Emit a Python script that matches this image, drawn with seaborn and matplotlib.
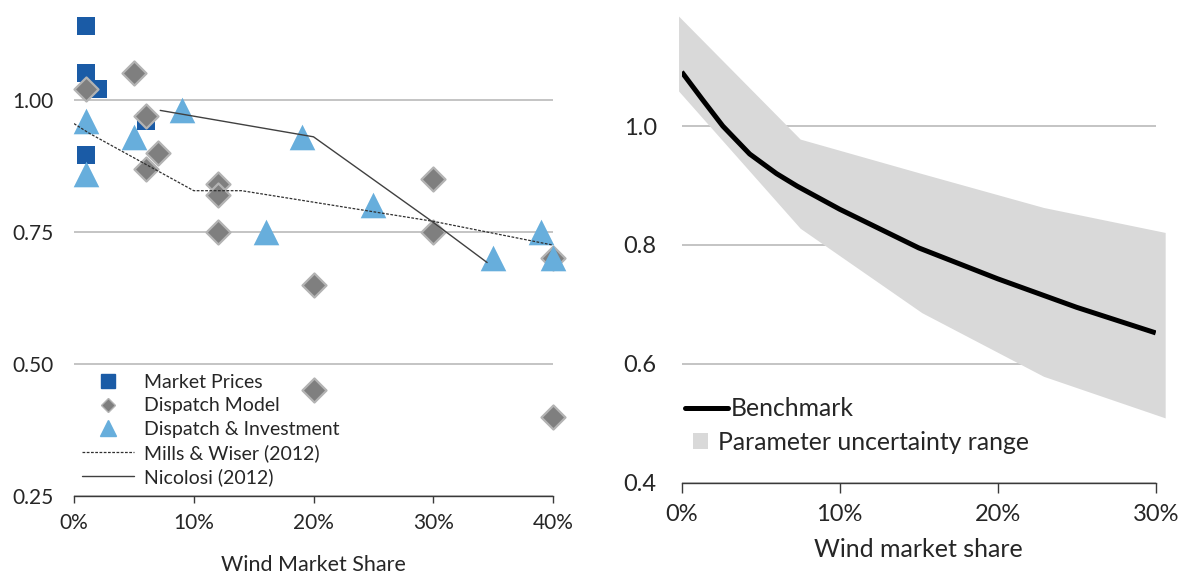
import matplotlib
matplotlib.use("Agg")
import matplotlib.pyplot as plt
from matplotlib.lines import Line2D
from matplotlib.patches import Patch
import seaborn as sns

# ---- left panel: value factors from the literature ----
market_x = [1, 1, 2, 6, 1]
market_y = [1.14, 1.05, 1.02, 0.96, 0.895]

dispatch_x = [1, 5, 6, 7, 6, 12, 12, 12, 30, 30, 20, 20, 40, 40]
dispatch_y = [1.02, 1.05, 0.97, 0.90, 0.87, 0.84, 0.82, 0.75, 0.85, 0.75, 0.65, 0.45, 0.70, 0.40]

invest_x = [1, 5, 9, 1, 16, 19, 25, 35, 39, 40]
invest_y = [0.96, 0.93, 0.98, 0.86, 0.75, 0.93, 0.80, 0.70, 0.75, 0.70]

mills_x = [0, 1.25, 10, 14, 30, 40]
mills_y = [0.955, 0.937, 0.828, 0.828, 0.77, 0.725]

nicolosi_x = [7.2, 20, 29.7, 34.5]
nicolosi_y = [0.98, 0.93, 0.773, 0.692]

left_xticks = [0, 10, 20, 30, 40]
left_yticks = [0.25, 0.50, 0.75, 1.00]
left_labels = ["Market Prices", "Dispatch Model", "Dispatch & Investment",
               "Mills & Wiser (2012)", "Nicolosi (2012)"]

# ---- right panel: model benchmark and parameter range ----
bench_x = [0, 1.3, 2.6, 4.3, 6.0, 7.3, 10, 15, 20, 25, 30]
bench_y = [1.091, 1.045, 1.0, 0.953, 0.920, 0.899, 0.860, 0.795, 0.743, 0.695, 0.652]

band_x = [-0.2, 7.5, 15.2, 22.9, 30.6]
band_lo = [1.059, 0.828, 0.686, 0.579, 0.509]
band_hi = [1.185, 0.978, 0.920, 0.863, 0.821]

right_xticks = [0, 10, 20, 30]
right_yticks = [0.4, 0.6, 0.8, 1.0]
right_labels = ["Benchmark", "Parameter uncertainty range"]

sns.set_theme(style="white")
plt.rcParams["font.family"] = ["Lato", "DejaVu Sans"]
plt.rcParams["text.color"] = "#262626"
plt.rcParams["xtick.color"] = "#262626"
plt.rcParams["ytick.color"] = "#262626"

DARK_BLUE = "#1a5ba6"
LIGHT_BLUE = "#67aedc"
GREY = "#7f7f7f"
GREY_EDGE = "#b3b3b3"
GRID = "#bfbfbf"
AXIS = "#3a3a3a"

W, H = 1180, 576
fig = plt.figure(figsize=(W / 100, H / 100), dpi=100)
ax1 = fig.add_axes([74 / W, 80 / H, 479 / W, 496 / H])
ax2 = fig.add_axes([681.7 / W, 93.3 / H, 474 / W, 482.7 / H])

# ---------- left panel ----------
sns.scatterplot(x=market_x, y=market_y, ax=ax1, marker="s", s=150,
                color=DARK_BLUE, edgecolor=DARK_BLUE, linewidth=0, zorder=3, clip_on=False)
sns.scatterplot(x=dispatch_x, y=dispatch_y, ax=ax1, marker="D", s=150,
                color=GREY, edgecolor=GREY_EDGE, linewidth=1.6, zorder=4, clip_on=False)
sns.scatterplot(x=invest_x, y=invest_y, ax=ax1, marker="^", s=340,
                color=LIGHT_BLUE, edgecolor=LIGHT_BLUE, linewidth=0, zorder=5, clip_on=False)
sns.lineplot(x=mills_x, y=mills_y, ax=ax1, color="#303030", lw=0.9,
             linestyle=(0, (2.2, 1.2)), zorder=6, sort=False)
sns.lineplot(x=nicolosi_x, y=nicolosi_y, ax=ax1, color="#404040", lw=1.0,
             zorder=6, sort=False)

ax1.set_xlim(0, 40)
ax1.set_ylim(0.25, 1.189)
ax1.set_xticks(left_xticks)
ax1.set_xticklabels([f"{t}%" for t in left_xticks], fontsize=15)
ax1.set_yticks(left_yticks)
ax1.set_yticklabels([f"{t:.2f}" for t in left_yticks], fontsize=15)
ax1.grid(axis="y", color=GRID, lw=1.3)
ax1.grid(axis="x", visible=False)
ax1.set_axisbelow(True)
for side in ("top", "right", "left"):
    ax1.spines[side].set_visible(False)
ax1.spines["bottom"].set_color(AXIS)
ax1.spines["bottom"].set_linewidth(1.0)
ax1.tick_params(axis="x", bottom=True, direction="out", length=5, width=1.0,
                color=AXIS, pad=7)
ax1.tick_params(axis="y", left=False, length=0, pad=15)
ax1.set_xlabel("Wind Market Share", fontsize=15.5, labelpad=16)

left_handles = [
    Line2D([], [], linestyle="none", marker="s", markersize=9.5,
           markerfacecolor=DARK_BLUE, markeredgecolor=DARK_BLUE),
    Line2D([], [], linestyle="none", marker="D", markersize=7,
           markerfacecolor=GREY, markeredgecolor=GREY_EDGE, markeredgewidth=1),
    Line2D([], [], linestyle="none", marker="^", markersize=11,
           markerfacecolor=LIGHT_BLUE, markeredgecolor=LIGHT_BLUE),
    Line2D([], [], color="#303030", lw=0.9, linestyle=(0, (2.2, 1.2))),
    Line2D([], [], color="#404040", lw=1.0),
]
ax1.legend(left_handles, left_labels, loc="center left",
           bbox_to_anchor=(81.7 / W, 1 - 430 / H), bbox_transform=fig.transFigure,
           frameon=False, fontsize=14, handlelength=2.7, handletextpad=0.5,
           labelspacing=0.32, borderpad=0, borderaxespad=0)

# ---------- right panel ----------
ax2.fill_between(band_x, band_lo, band_hi, color="#d9d9d9", lw=0,
                 zorder=1, clip_on=False)
sns.lineplot(x=bench_x, y=bench_y, ax=ax2, color="black", lw=3.6, zorder=3,
             solid_joinstyle="round", solid_capstyle="butt")

ax2.set_xlim(0, 30)
ax2.set_ylim(0.4, 1.212)
ax2.set_xticks(right_xticks)
ax2.set_xticklabels([f"{t}%" for t in right_xticks], fontsize=17)
ax2.set_yticks(right_yticks)
ax2.set_yticklabels([f"{t:.1f}" for t in right_yticks], fontsize=17)
ax2.grid(axis="y", color=GRID, lw=1.3)
ax2.grid(axis="x", visible=False)
ax2.set_axisbelow(True)
for side in ("top", "right", "left"):
    ax2.spines[side].set_visible(False)
ax2.spines["bottom"].set_color(AXIS)
ax2.spines["bottom"].set_linewidth(1.0)
ax2.tick_params(axis="x", bottom=True, direction="out", length=7, width=1.0,
                color=AXIS, pad=8)
ax2.tick_params(axis="y", left=False, length=0, pad=18)
ax2.set_xlabel("Wind market share", fontsize=18, labelpad=10)

bench_leg = ax2.legend([Line2D([], [], color="black", lw=3.6, solid_capstyle="round")],
                       [right_labels[0]],
                       loc="center left", bbox_to_anchor=(685 / W, 1 - 409 / H),
                       bbox_transform=fig.transFigure, frameon=False, fontsize=17.8,
                       handlelength=1.75, handletextpad=0.1, borderpad=0,
                       borderaxespad=0)
ax2.add_artist(bench_leg)
ax2.legend([Patch(facecolor="#d9d9d9", edgecolor="none")], [right_labels[1]],
           loc="center left", bbox_to_anchor=(693 / W, 1 - 442 / H),
           bbox_transform=fig.transFigure, frameon=False, fontsize=17.8,
           handlelength=0.6, handleheight=0.65, handletextpad=0.4, borderpad=0,
           borderaxespad=0)

fig.savefig("out.png", dpi=100)
